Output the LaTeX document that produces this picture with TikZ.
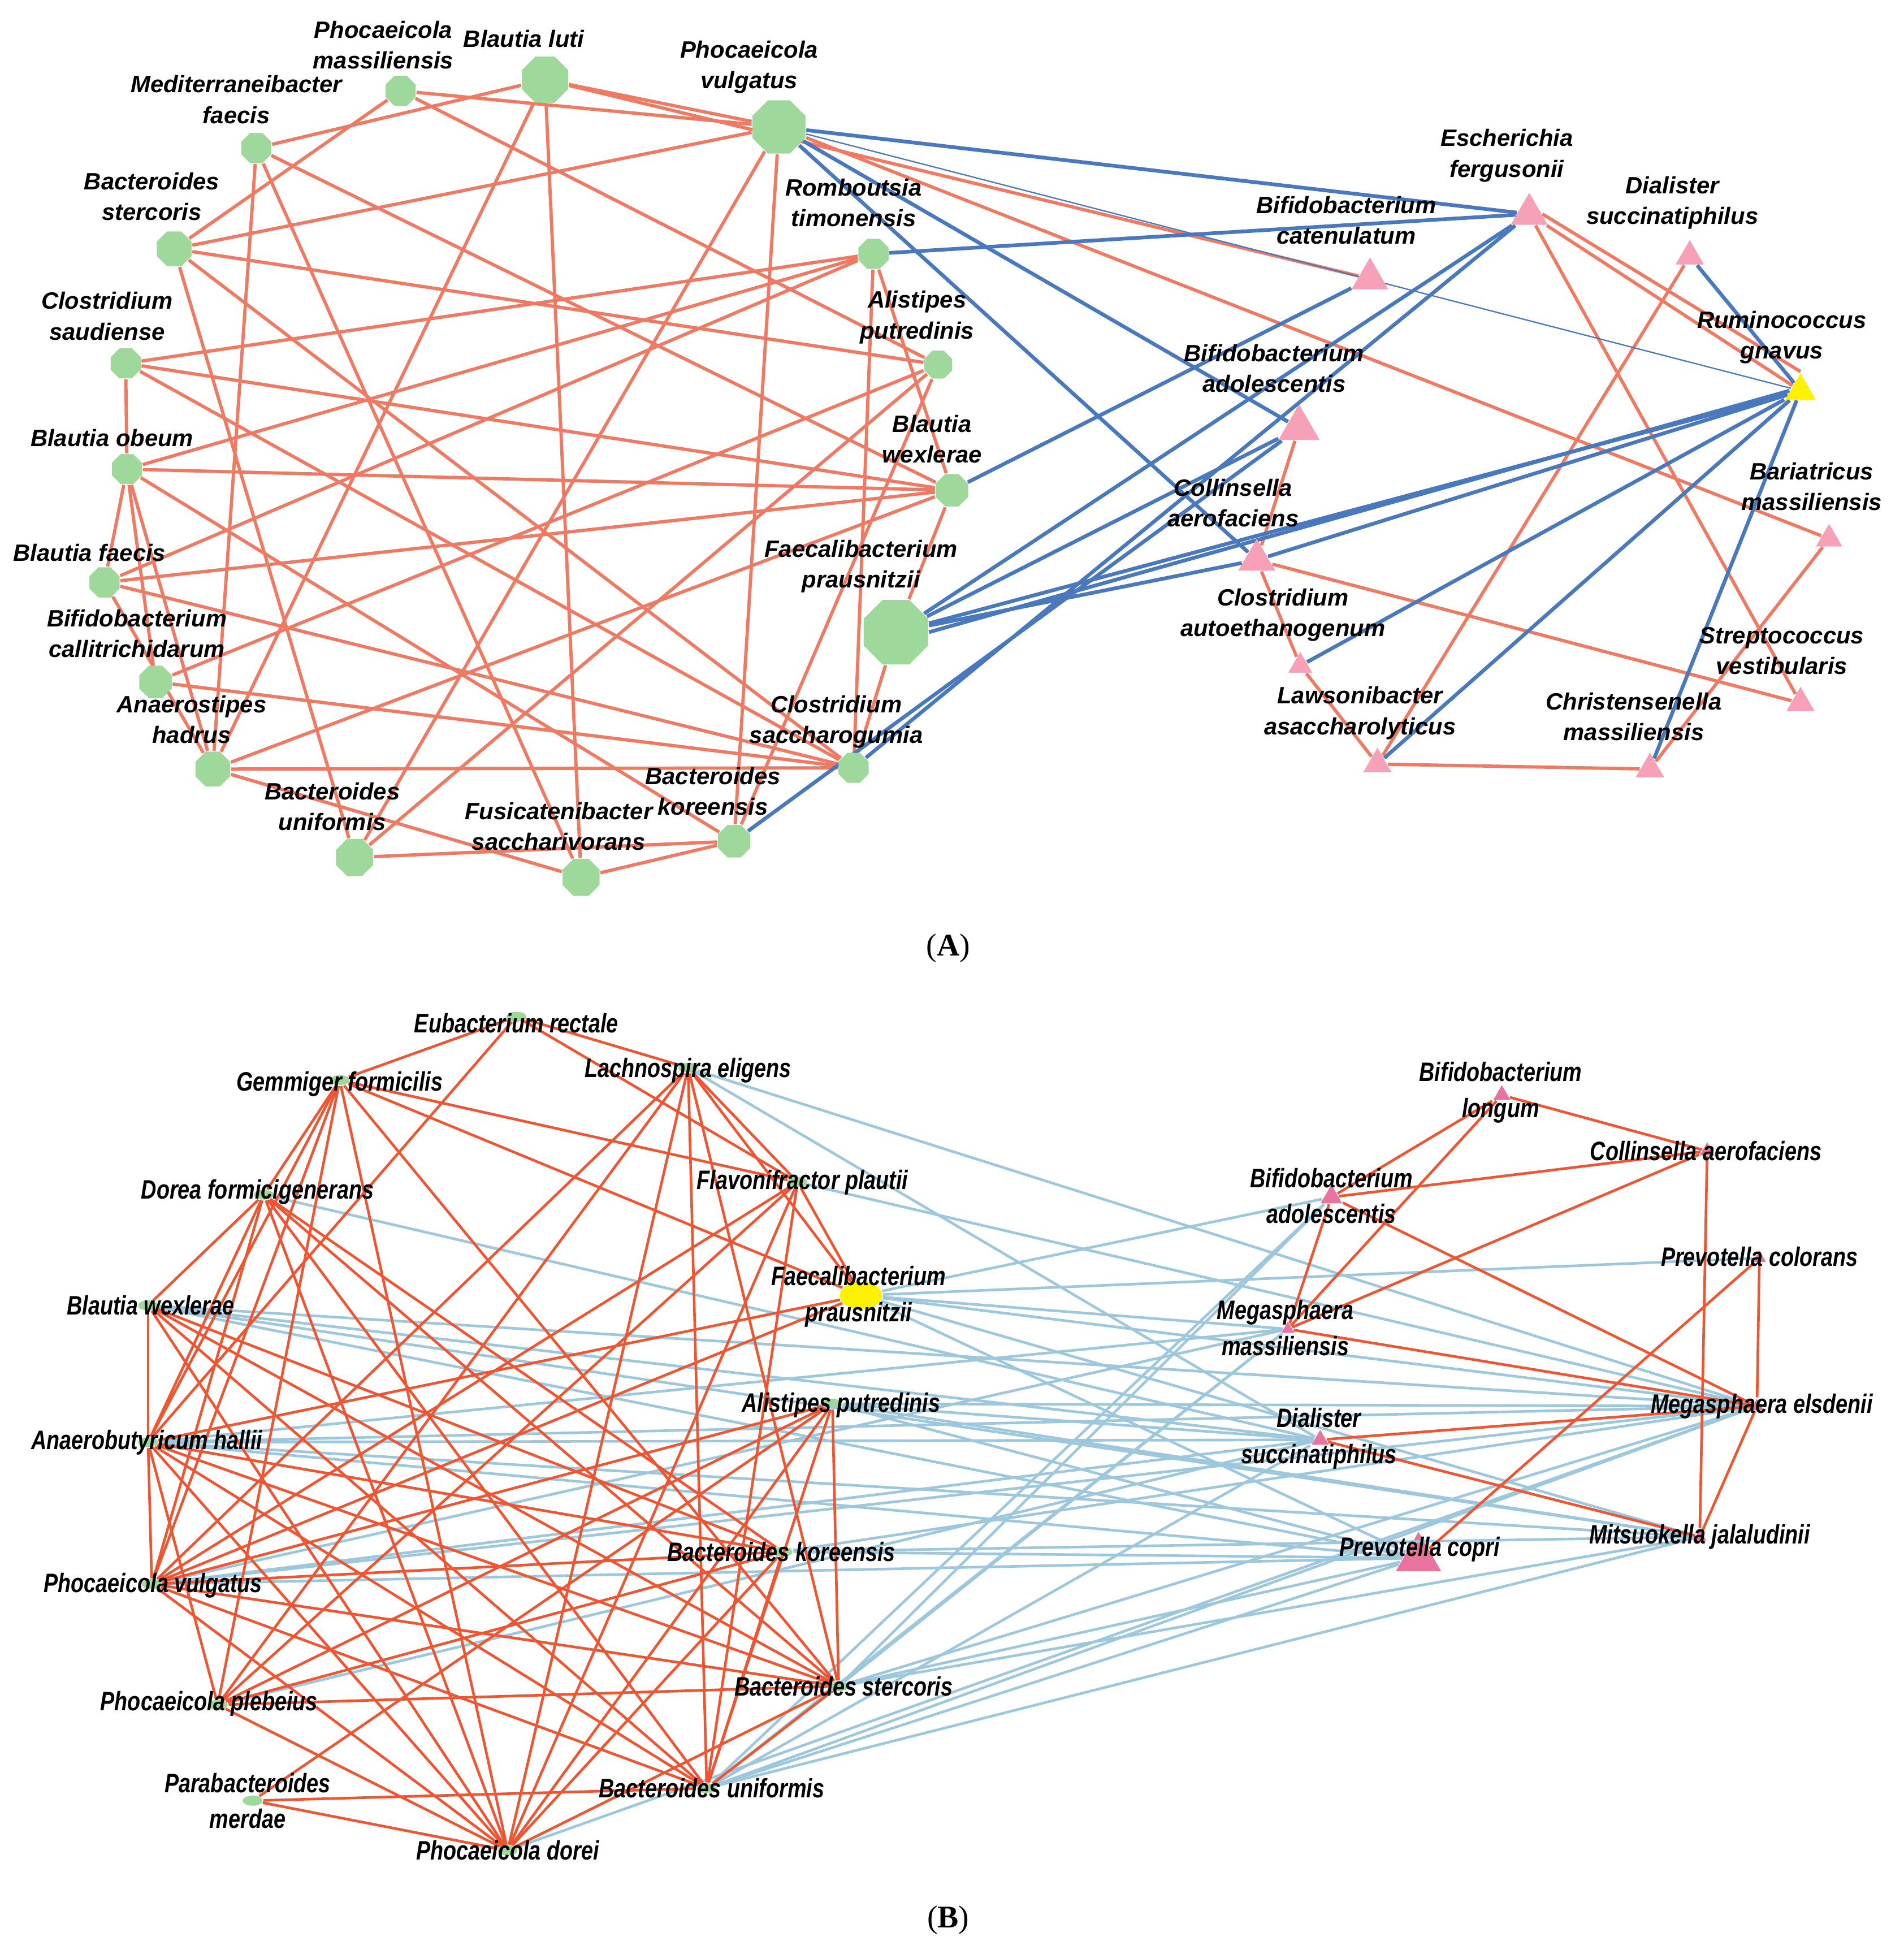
\documentclass[tikz,border=0pt]{standalone}
\usepackage{fontspec}
\usetikzlibrary{shapes.geometric}
\newfontfamily\labA{Liberation Sans}[UprightFont=* Bold Italic]
\newfontfamily\labB{Liberation Sans}[UprightFont=* Bold Italic,FakeStretch=0.8]
\newfontfamily\serifp{Liberation Serif}
\definecolor{edR}{HTML}{EE7A64}
\definecolor{edRB}{HTML}{EE5533}
\definecolor{edBl}{HTML}{4A78BD}
\definecolor{edLb}{HTML}{9CC7DC}
\definecolor{ngreen}{HTML}{9ED89A}
\definecolor{npink}{HTML}{F7A1B8}
\definecolor{npinkB}{HTML}{E8739E}
\definecolor{nyel}{HTML}{FFF200}
\begin{document}
\begin{tikzpicture}[x=0.01cm,y=-0.01cm,
  oct/.style={regular polygon,regular polygon sides=8,fill=ngreen,draw=none,inner sep=0pt,minimum size=#1},
  tri/.style={regular polygon,regular polygon sides=3,fill=npink,draw=none,inner sep=0pt,minimum size=#1},
  la/.style={font=\labA\fontsize{5.4}{7}\selectfont,align=center,inner sep=0pt},
  lb/.style={font=\labB\fontsize{6.1}{8.2}\selectfont,align=center,inner sep=0pt},
  gB/.style={ellipse,fill=ngreen,inner sep=0pt,minimum width=0.16cm,minimum height=0.08cm},
  tB/.style={regular polygon,regular polygon sides=3,fill=npinkB,inner sep=0pt,minimum size=#1},
  rA/.style={edR,line width=0.75pt},
  bA/.style={edBl,line width=0.85pt},
  rB/.style={edRB,line width=0.6pt},
  bB/.style={edLb,line width=0.6pt},
  pl/.style={font=\serifp\fontsize{7.2}{8}\selectfont,inner sep=0pt}]
\useasboundingbox (0,0) rectangle (1530,1567);
% ---------------- Panel A nodes
\node[oct=0.46cm] (PvA) at (626,102) {};
\node[oct=0.40cm] (Bluti) at (438,64) {};
\node[oct=0.26cm] (Pmass) at (322,73) {};
\node[oct=0.26cm] (Med) at (206,119) {};
\node[oct=0.30cm] (BstA) at (140,200) {};
\node[oct=0.26cm] (Csaud) at (101,292) {};
\node[oct=0.26cm] (Bob) at (102,377) {};
\node[oct=0.26cm] (Bfae) at (84,468) {};
\node[oct=0.28cm] (Bcal) at (125,548) {};
\node[oct=0.30cm] (Ahad) at (171,618) {};
\node[oct=0.32cm] (BunA) at (285,689) {};
\node[oct=0.32cm] (Fusi) at (467,705) {};
\node[oct=0.28cm] (BkoA) at (590,676) {};
\node[oct=0.26cm] (Csac) at (686,617) {};
\node[oct=0.56cm] (FpA) at (720,508) {};
\node[oct=0.28cm] (Bwex) at (765,394) {};
\node[oct=0.24cm] (Aput) at (754,293) {};
\node[oct=0.26cm] (Romb) at (702,204) {};
\node[tri=0.34cm] (Ef) at (1229,172) {};
\node[tri=0.34cm] (Bcat) at (1101,224) {};
\node[tri=0.26cm] (DsA) at (1358,206) {};
\node[tri=0.28cm,fill=yellow] (Rg) at (1447,314) {};
\node[tri=0.38cm] (Bado) at (1044,344) {};
\node[tri=0.34cm] (Caer) at (1010,450) {};
\node[tri=0.24cm] (Bari) at (1470,433) {};
\node[tri=0.22cm] (Caut) at (1045,535) {};
\node[tri=0.26cm] (Strp) at (1447,565) {};
\node[tri=0.26cm] (Laws) at (1107,614) {};
\node[tri=0.26cm] (Chri) at (1326,618) {};
% ---------------- Panel A edges
\begin{scope}[on background layer/.style={}]
\end{scope}
\foreach \a/\b in {Pmass/PvA,Pmass/Aput,Med/Bluti,Med/Bwex,Med/Ahad,Med/Fusi,BstA/Pmass,BstA/PvA,BstA/Aput,BstA/BunA,BstA/Csac,Bluti/PvA,Bluti/Bcat,Bluti/Ahad,Bluti/Fusi,PvA/BunA,PvA/BkoA,PvA/Bari,Romb/Csaud,Romb/Bfae,Romb/Bob,Romb/Bwex,Romb/Csac,Aput/BunA,Aput/BkoA,Aput/Bcal,Csaud/Bwex,Csaud/Csac,Csaud/Bob,Bob/Bwex,Bob/BkoA,Bob/Ahad,Bob/Bcal,Bob/Bfae,Bfae/Bwex,Bfae/Csac,Bfae/Ahad,Bcal/Csac,Ahad/Csac,Ahad/Fusi,Ahad/Bwex,BunA/BkoA,FpA/Csac,Bwex/FpA,Ef/Rg,Ef/Strp,DsA/Laws,Bado/Caer,Caer/Strp,Caer/Caut,Caut/Laws,Laws/Chri,Chri/Bari,Fusi/BkoA}
  \draw[rA] (\a) -- (\b);
\draw[rA] (Ef.east) -- (Rg.north);
\foreach \a/\b in {PvA/Ef,PvA/Bado,PvA/Caer,Romb/Ef,Bwex/Bcat,FpA/Ef,FpA/Bado,FpA/Rg,FpA/Caer,Csac/Ef,BkoA/Bado,DsA/Rg,Caer/Rg,Caut/Rg,Laws/Rg,Chri/Rg}
  \draw[bA] (\a) -- (\b);
\draw[bA] (FpA.east) -- (Rg.west);
\draw[edBl,line width=0.3pt] (PvA) -- (Rg);
% redraw nodes on top
\foreach \n/\s in {PvA/0.46,Bluti/0.40,Pmass/0.26,Med/0.26,BstA/0.30,Csaud/0.26,Bob/0.26,Bfae/0.26,Bcal/0.28,Ahad/0.30,BunA/0.32,Fusi/0.32,BkoA/0.28,Csac/0.26,FpA/0.56,Bwex/0.28,Aput/0.24,Romb/0.26}
  \node[oct=\s cm] at (\n.center) {};
\foreach \n/\s in {Ef/0.34,Bcat/0.34,DsA/0.26,Bado/0.38,Caer/0.34,Bari/0.24,Caut/0.22,Strp/0.26,Laws/0.26,Chri/0.26}
  \node[tri=\s cm] at (\n.center) {};
\node[tri=0.28cm,fill=yellow] at (Rg.center) {};
% Panel A labels
\node[la] (tPvA) at (602,54) {Phocaeicola\\vulgatus};
\node[la] (tBluti) at (421,31) {Blautia luti};
\node[la] (tPmass) at (308,36) {Phocaeicola\\massiliensis};
\node[la] (tMed) at (190,80) {Mediterraneibacter\\faecis};
\node[la] (tBstA) at (122,158) {Bacteroides\\stercoris};
\node[la] (tCsaud) at (86,254) {Clostridium\\saudiense};
\node[la] (tBob) at (90,352) {Blautia obeum};
\node[la] (tBfae) at (72,444) {Blautia faecis};
\node[la] (tBcal) at (110,509) {Bifidobacterium\\callitrichidarum};
\node[la] (tAhad) at (154,578) {Anaerostipes\\hadrus};
\node[la] (tBunA) at (267,648) {Bacteroides\\uniformis};
\node[la] (tFusi) at (449,664) {Fusicatenibacter\\saccharivorans};
\node[la] (tBkoA) at (573,636) {Bacteroides\\koreensis};
\node[la] (tCsac) at (672,580) {Clostridium\\saccharogumia};
\node[la] (tFpA) at (692,455) {Faecalibacterium\\prausnitzii};
\node[la] (tBwex) at (749,353) {Blautia\\wexlerae};
\node[la] (tAput) at (737,255) {Alistipes\\putredinis};
\node[la] (tRomb) at (686,163) {Romboutsia\\timonensis};
\node[la] (tEf) at (1211,125) {Escherichia\\fergusonii};
\node[la] (tBcat) at (1082,177) {Bifidobacterium\\catenulatum};
\node[la] (tDsA) at (1344,163) {Dialister\\succinatiphilus};
\node[la] (tRg) at (1432,271) {Ruminococcus\\gnavus};
\node[la] (tBado) at (1024,296) {Bifidobacterium\\adolescentis};
\node[la] (tCaer) at (991,404) {Collinsella\\aerofaciens};
\node[la] (tBari) at (1456,391) {Bariatricus\\massiliensis};
\node[la] (tCaut) at (1031,494) {Clostridium\\autoethanogenum};
\node[la] (tStrp) at (1432,523) {Streptococcus\\vestibularis};
\node[la] (tLaws) at (1093,573) {Lawsonibacter\\asaccharolyticus};
\node[la] (tChri) at (1313,576) {Christensenella\\massiliensis};
\node[pl] (pA) at (762,762) {(\textbf{A})};
% ---------------- Panel B nodes
\node[gB] (Er) at (415,817) {};
\node[gB] (Gf) at (273,868) {};
\node[gB] (Le) at (553,858) {};
\node[gB] (Fp) at (641,950) {};
\node[gB] (Df) at (212,960) {};
\node[ellipse,fill=nyel,inner sep=0pt,minimum width=0.34cm,minimum height=0.22cm] (FpB) at (692,1041) {};
\node[gB] (Bw) at (119,1049) {};
\node[gB] (Ap) at (669,1128) {};
\node[gB] (Ah) at (119,1159) {};
\node[gB] (BkB) at (629,1247) {};
\node[gB] (PvB) at (122,1273) {};
\node[gB] (Bs) at (674,1355) {};
\node[gB] (Pp) at (175,1370) {};
\node[gB] (Pm) at (203,1447) {};
\node[gB] (Bu) at (568,1437) {};
\node[gB] (Pd) at (408,1487) {};
\node[tB=0.16cm] (Bl) at (1207,880) {};
\node[tB=0.14cm] (Ca) at (1372,925) {};
\node[tB=0.2cm] (Ba) at (1070,962) {};
\node[tB=0.12cm] (Pc) at (1414,1011) {};
\node[tB=0.12cm] (Mm) at (1035,1068) {};
\node[tB=0.12cm] (Me) at (1412,1130) {};
\node[tB=0.16cm] (DsB) at (1061,1157) {};
\node[tB=0.42cm] (PcB) at (1140,1252) {};
\node[tB=0.12cm] (Mj) at (1366,1235) {};
% Panel B edges
\foreach \a/\b in {Le/DsB,Fp/Me,Df/DsB,FpB/Ba,FpB/Pc,FpB/Me,FpB/Mm,FpB/PcB,FpB/Mj,Bw/Me,Bw/DsB,Bw/Mj,Bw/PcB,Ap/Me,Ap/DsB,Ap/Mj,Ap/PcB,Ah/Me,Ah/DsB,Ah/PcB,Ah/Mj,Ah/Mm,BkB/PcB,BkB/Me,BkB/Mj,PvB/Me,PvB/Mm,PvB/DsB,PvB/PcB,Bs/Ba,Bs/Mm,Bs/Me,Bs/PcB,Bs/Mj,Pp/DsB,Bu/Ba,Bu/Mm,Bu/Me,Bu/PcB,Bu/Mj,Bu/DsB,Pd/Me,Le/Me}
  \draw[bB] (\a) -- (\b);
\foreach \a/\b in {Er/Gf,Er/Le,Er/Fp,Er/Ah,Gf/Df,Gf/Ah,Gf/PvB,Gf/Fp,Gf/FpB,Gf/Pd,Gf/Bs,Gf/Pp,Le/Fp,Le/FpB,Le/Bu,Le/Pd,Le/Bs,Le/PvB,Le/Pp,Fp/FpB,Fp/PvB,Fp/Pd,Fp/Bu,Fp/Pp,Df/Bw,Df/Ah,Df/PvB,Df/BkB,Df/Bs,Df/Bu,Df/Pd,FpB/Ah,FpB/PvB,Bw/Ah,Bw/BkB,Bw/Bs,Bw/Bu,Bw/Pd,Ap/PvB,Ap/Pp,Ap/Pd,Ap/Bu,Ap/Bs,Ap/Pm,Ah/PvB,Ah/BkB,Ah/Bs,Ah/Bu,Ah/Pd,Ah/Pp,BkB/PvB,BkB/Pp,BkB/Pd,BkB/Bu,PvB/Bs,PvB/Bu,PvB/Pd,Bs/Pp,Bs/Bu,Bs/Pd,Pm/Bu,Pm/Pd,Pp/Pd,Bl/Ba,Bl/Ca,Bl/Mm,Ba/Ca,Ba/Mm,Ba/Me,Ca/Mm,Ca/Mj,Pc/Me,Pc/PcB,Mj/Me,Mm/Me,DsB/Me,DsB/Mj}
  \draw[rB] (\a) -- (\b);
% Panel B labels
\node[lb] (tEr) at (415,822) {Eubacterium rectale};
\node[lb] (tGf) at (273,871) {Gemmiger formicilis};
\node[lb] (tLe) at (553,860) {Lachnospira eligens};
\node[lb] (tFp) at (645,950) {Flavonifractor plautii};
\node[lb] (tDf) at (207,958) {Dorea formicigenerans};
\node[lb] (tFpB) at (690,1042) {Faecalibacterium\\prausnitzii};
\node[lb] (tBw) at (121,1049) {Blautia wexlerae};
\node[lb] (tAp) at (676,1129) {Alistipes putredinis};
\node[lb] (tAh) at (118,1159) {Anaerobutyricum hallii};
\node[lb] (tBkB) at (628,1247) {Bacteroides koreensis};
\node[lb] (tPvB) at (123,1274) {Phocaeicola vulgatus};
\node[lb] (tBs) at (678,1355) {Bacteroides stercoris};
\node[lb] (tPp) at (168,1369) {Phocaeicola plebeius};
\node[lb] (tPm) at (199,1447) {Parabacteroides\\merdae};
\node[lb] (tBu) at (572,1437) {Bacteroides uniformis};
\node[lb] (tPd) at (408,1487) {Phocaeicola dorei};
\node[lb] (tBl) at (1206,878) {Bifidobacterium\\longum};
\node[lb] (tCa) at (1371,925) {Collinsella aerofaciens};
\node[lb] (tBa) at (1070,961) {Bifidobacterium\\adolescentis};
\node[lb] (tPc) at (1414,1010) {Prevotella colorans};
\node[lb] (tMm) at (1033,1067) {Megasphaera\\massiliensis};
\node[lb] (tMe) at (1416,1130) {Megasphaera elsdenii};
\node[lb] (tDsB) at (1060,1156) {Dialister\\succinatiphilus};
\node[lb] (tPcB) at (1141,1245) {Prevotella copri};
\node[lb] (tMj) at (1366,1235) {Mitsuokella jalaludinii};
\node[pl] (pB) at (762,1543) {(\textbf{B})};
\end{tikzpicture}
\end{document}
